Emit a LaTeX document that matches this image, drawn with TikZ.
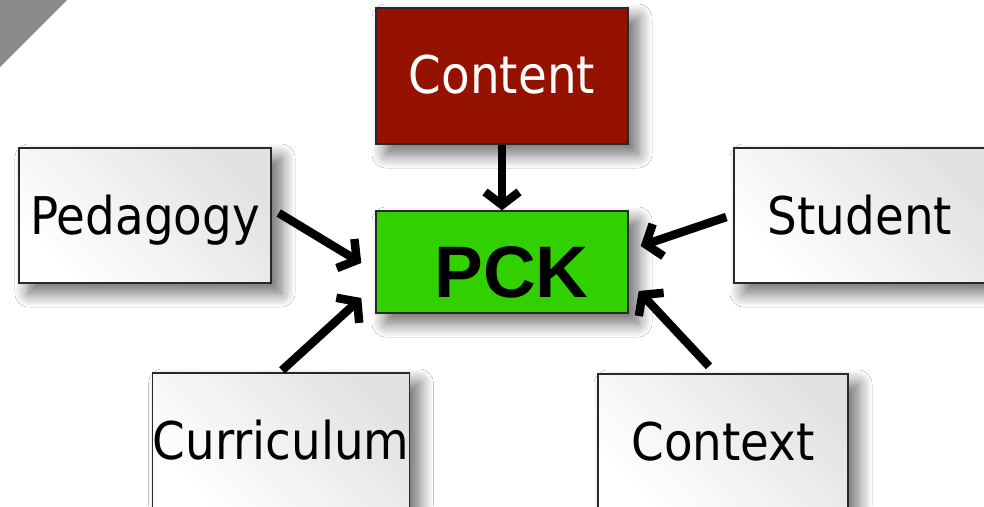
\documentclass[tikz,border=0pt]{standalone}
\usepackage{fontspec}
\usetikzlibrary{arrows.meta,shadows.blur,calc}
\setmainfont{Liberation Sans}
\newfontfamily\labelfont{DejaVu Sans}[FakeStretch=0.9]

\definecolor{contentred}{RGB}{150,18,0}
\definecolor{pckgreen}{RGB}{51,208,0}
\definecolor{boxedge}{RGB}{40,40,40}
\definecolor{cornergray}{RGB}{138,138,138}
\definecolor{paleshade}{RGB}{226,226,226}

\tikzset{
  box/.style={draw=boxedge, line width=1.4pt, minimum width=252pt,
    minimum height=135pt, inner sep=0pt,
    font=\labelfont\fontsize{52}{60}\selectfont,
    text height=38pt, text depth=0pt,
    blur shadow={shadow xshift=10pt, shadow yshift=-10pt,
      shadow blur radius=14pt, shadow blur steps=14, shadow opacity=60}},
  whitebox/.style={box, top color=paleshade, bottom color=white,
    shading angle=-45},
  feed/.style={line width=8.5pt, draw=black,
    -{Straight Barb[length=13pt,width=34pt]}},
}

\begin{document}
\begin{tikzpicture}[x=1pt,y=-1pt]
  \useasboundingbox (0,0) rectangle (984,506);
  \fill[white] (0,0) rectangle (984,506);

  % corner decoration
  \fill[cornergray] (0,0) -- (67,0) -- (0,67) -- cycle;

  % central concept and its sources
  \node[box, fill=pckgreen, minimum height=102pt,
        font=\bfseries\fontsize{73}{80}\selectfont,
        text height=71pt, text depth=0pt] (pck) at (502,262) {\hspace*{19pt}PCK};
  \node[box, fill=contentred, minimum height=136pt, text=white,
        text height=34pt] (content) at (502,76) {Content};
  \node[whitebox] (ped) at (145,215.5) {Pedagogy};
  \node[whitebox] (stu) at (860,215.5) {Student};
  \node[whitebox] (cur) at (281,440.5) {Curriculum};
  \node[whitebox, minimum width=250pt] (ctx) at (723,441.5) {Context};

  % influences on PCK
  \draw[feed] (content.south) -- (pck.north);
  \draw[feed] ($(ped.east)+(7,-2.5)$) -- ($(pck.west)+(-14,1)$);
  \draw[feed] ($(stu.west)+(-7,1.5)$) -- ($(pck.east)+(12,-16)$);
  \draw[feed] ($(cur.north)+(1,-2)$) -- ($(pck.west)+(-14,36)$);
  \draw[feed] ($(ctx.north)+(-14,-7)$) -- ($(pck.east)+(10,29)$);
\end{tikzpicture}
\end{document}
